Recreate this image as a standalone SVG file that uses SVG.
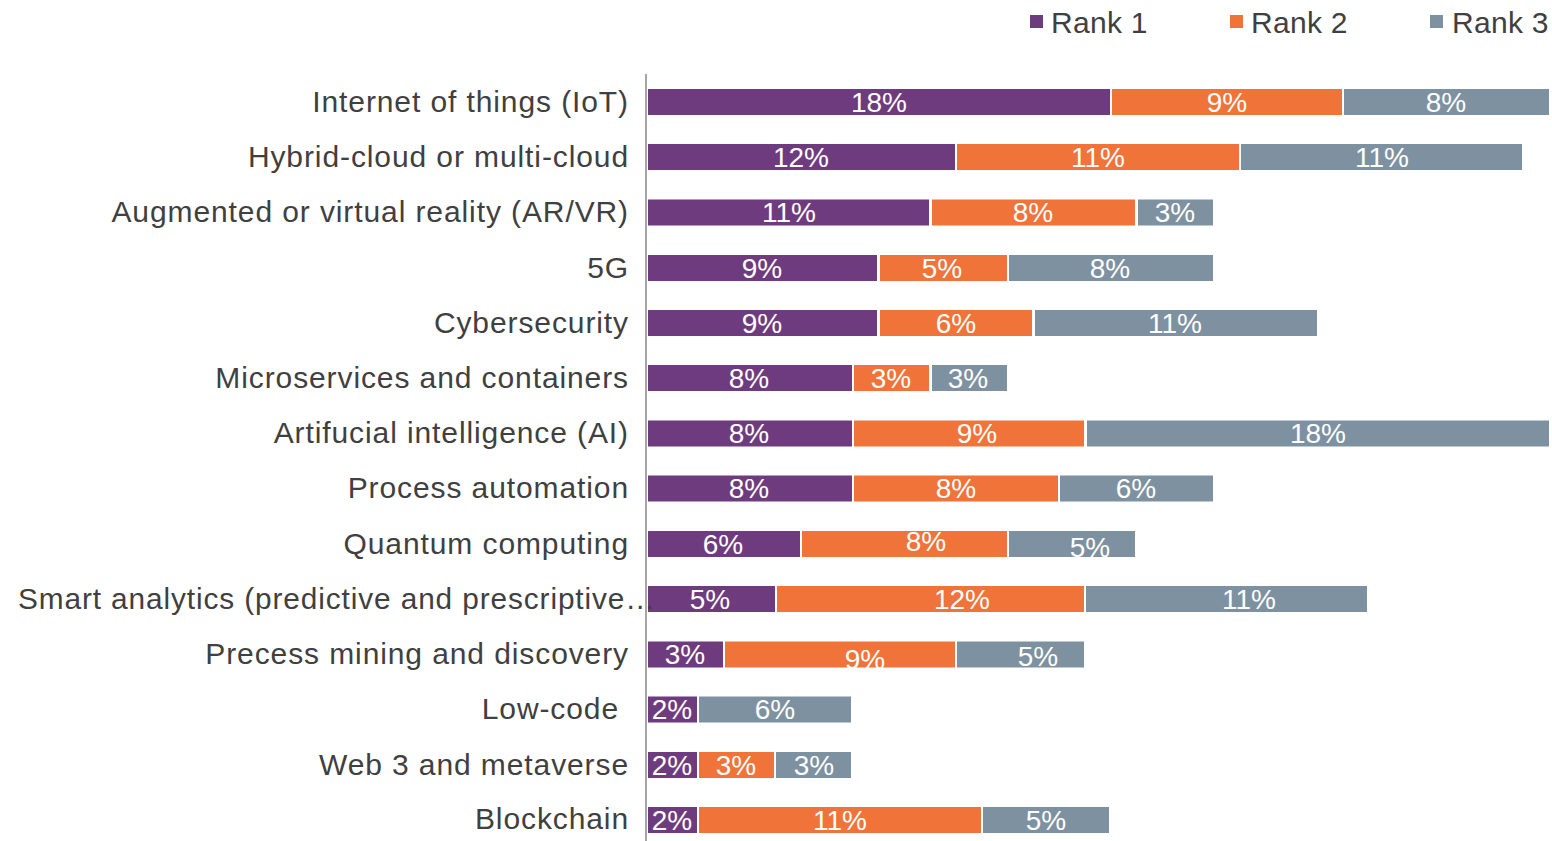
<svg xmlns="http://www.w3.org/2000/svg" width="1552" height="841" viewBox="0 0 1552 841">
<style>
.p{fill:#6F3B7F}.o{fill:#F0733A}.g{fill:#7E91A1}
.cat{font-family:"Liberation Sans",Arial,sans-serif;font-size:30px;fill:#404040;text-anchor:end;letter-spacing:0.9px}
.val{font-family:"Liberation Sans",Arial,sans-serif;font-size:28px;fill:#FFFFFF;text-anchor:middle}
.leg{font-family:"Liberation Sans",Arial,sans-serif;font-size:30px;fill:#404040;letter-spacing:0.3px}
</style>
<rect width="1552" height="841" fill="#FFFFFF"/>
<g id="legend">
<rect class="p" x="1030" y="15" width="13" height="13"/><text class="leg" x="1051" y="33">Rank 1</text>
<rect class="o" x="1230" y="15" width="13" height="13"/><text class="leg" x="1251" y="33">Rank 2</text>
<rect class="g" x="1430" y="15" width="13" height="13"/><text class="leg" x="1452" y="33">Rank 3</text>
</g>
<g id="connectors">
<line x1="646" y1="74" x2="646" y2="841" stroke="#A6A6A6" stroke-width="2"/>
</g>
<g id="row-iot">
<rect class="p" x="648" y="89" width="462" height="26"/><rect class="o" x="1112" y="89" width="230" height="26"/><rect class="g" x="1344" y="89" width="205" height="26"/>
<text class="val" x="879" y="111.5">18%</text><text class="val" x="1227" y="111.5">9%</text><text class="val" x="1446" y="111.5">8%</text>
<text class="cat" x="629" y="111.5">Internet of things (IoT)</text>
</g>
<g id="row-hybrid">
<rect class="p" x="648" y="144" width="307" height="26"/><rect class="o" x="957" y="144" width="282" height="26"/><rect class="g" x="1241" y="144" width="281" height="26"/>
<text class="val" x="801" y="166.5">12%</text><text class="val" x="1098" y="166.5">11%</text><text class="val" x="1382" y="166.5">11%</text>
<text class="cat" x="629" y="166.5">Hybrid-cloud or multi-cloud</text>
</g>
<g id="row-arvr">
<rect class="p" x="648" y="199.5" width="281" height="26"/><rect class="o" x="932" y="199.5" width="203" height="26"/><rect class="g" x="1138" y="199.5" width="75" height="26"/>
<text class="val" x="789" y="222">11%</text><text class="val" x="1033" y="222">8%</text><text class="val" x="1175" y="222">3%</text>
<text class="cat" x="629" y="222">Augmented or virtual reality (AR/VR)</text>
</g>
<g id="row-5g">
<rect class="p" x="648" y="255" width="229" height="26"/><rect class="o" x="880" y="255" width="127" height="26"/><rect class="g" x="1009" y="255" width="204" height="26"/>
<text class="val" x="762" y="277.5">9%</text><text class="val" x="942" y="277.5">5%</text><text class="val" x="1110" y="277.5">8%</text>
<text class="cat" x="629" y="277.5">5G</text>
</g>
<g id="row-cyber">
<rect class="p" x="648" y="310" width="229" height="26"/><rect class="o" x="880" y="310" width="152" height="26"/><rect class="g" x="1035" y="310" width="282" height="26"/>
<text class="val" x="762" y="332.5">9%</text><text class="val" x="956" y="332.5">6%</text><text class="val" x="1175" y="332.5">11%</text>
<text class="cat" x="629" y="332.5">Cybersecurity</text>
</g>
<g id="row-micro">
<rect class="p" x="648" y="365" width="204" height="26"/><rect class="o" x="854" y="365" width="75" height="26"/><rect class="g" x="932" y="365" width="75" height="26"/>
<text class="val" x="749" y="387.5">8%</text><text class="val" x="891" y="387.5">3%</text><text class="val" x="968" y="387.5">3%</text>
<text class="cat" x="629" y="387.5">Microservices and containers</text>
</g>
<g id="row-ai">
<rect class="p" x="648" y="420.5" width="204" height="26"/><rect class="o" x="854" y="420.5" width="230" height="26"/><rect class="g" x="1087" y="420.5" width="462" height="26"/>
<text class="val" x="749" y="443">8%</text><text class="val" x="977" y="443">9%</text><text class="val" x="1318" y="443">18%</text>
<text class="cat" x="629" y="443">Artifucial intelligence (AI)</text>
</g>
<g id="row-process">
<rect class="p" x="648" y="475.5" width="204" height="26"/><rect class="o" x="854" y="475.5" width="204" height="26"/><rect class="g" x="1060" y="475.5" width="153" height="26"/>
<text class="val" x="749" y="497.5">8%</text><text class="val" x="956" y="498">8%</text><text class="val" x="1136" y="498">6%</text>
<text class="cat" x="629" y="498">Process automation</text>
</g>
<g id="row-quantum">
<rect class="p" x="648" y="531" width="152" height="26"/><rect class="o" x="802" y="531" width="205" height="26"/><rect class="g" x="1009" y="531" width="126" height="26"/>
<text class="val" x="723" y="553.5">6%</text><text class="val" x="926" y="551">8%</text><text class="val" x="1090" y="557">5%</text>
<text class="cat" x="629" y="553.5">Quantum computing</text>
</g>
<g id="row-smart">
<rect class="p" x="648" y="586" width="127" height="26"/><rect class="o" x="777" y="586" width="307" height="26"/><rect class="g" x="1086" y="586" width="281" height="26"/>
<text class="val" x="710" y="608.5">5%</text><text class="val" x="962" y="608.5">12%</text><text class="val" x="1249" y="608.5">11%</text>
<text class="cat" x="18" y="608.5" style="text-anchor:start" textLength="638" lengthAdjust="spacingAndGlyphs">Smart analytics (predictive and prescriptive…</text>
</g>
<g id="row-mining">
<rect class="p" x="648" y="641.5" width="75" height="26"/><rect class="o" x="725" y="641.5" width="230" height="26"/><rect class="g" x="957" y="641.5" width="127" height="26"/>
<text class="val" x="685" y="664">3%</text><text class="val" x="865" y="669">9%</text><text class="val" x="1038" y="666">5%</text>
<text class="cat" x="629" y="664">Precess mining and discovery</text>
</g>
<g id="row-lowcode">
<rect class="p" x="648" y="696.5" width="49" height="26"/><rect class="g" x="699" y="696.5" width="152" height="26"/>
<text class="val" x="672" y="719">2%</text><text class="val" x="775" y="719">6%</text>
<text class="cat" x="619" y="719">Low-code</text>
</g>
<g id="row-web3">
<rect class="p" x="648" y="752" width="49" height="26"/><rect class="o" x="699" y="752" width="75" height="26"/><rect class="g" x="776" y="752" width="75" height="26"/>
<text class="val" x="672" y="774.5">2%</text><text class="val" x="736" y="774.5">3%</text><text class="val" x="814" y="774.5">3%</text>
<text class="cat" x="629" y="774.5">Web 3 and metaverse</text>
</g>
<g id="row-blockchain">
<rect class="p" x="648" y="807" width="49" height="26"/><rect class="o" x="699" y="807" width="282" height="26"/><rect class="g" x="983" y="807" width="126" height="26"/>
<text class="val" x="672" y="829.5">2%</text><text class="val" x="840" y="829.5">11%</text><text class="val" x="1046" y="829.5">5%</text>
<text class="cat" x="629" y="829">Blockchain</text>
</g>
</svg>
